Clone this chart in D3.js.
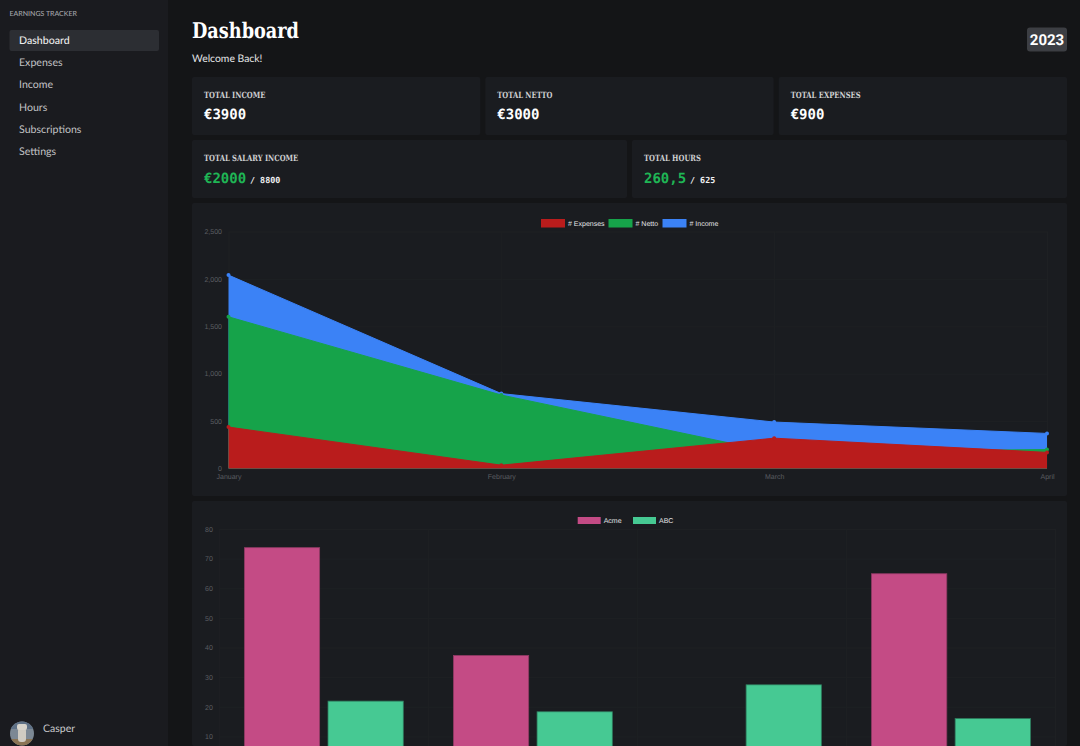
<!DOCTYPE html>
<html><head><meta charset="utf-8">
<script src="https://cdn.jsdelivr.net/npm/d3@7/dist/d3.min.js"></script>
<style>
html,body{margin:0;padding:0;width:1080px;height:746px;overflow:hidden;background:#141517}
svg{display:block}
text{text-rendering:geometricPrecision}
</style></head><body>
<svg id="c" width="1080" height="746" viewBox="0 0 1080 746"></svg>
<script>
// ---- data ----
const navItems = ["Dashboard","Expenses","Income","Hours","Subscriptions","Settings"];
const months = ["January","February","March","April"];
const expenses = [437, 35, 320, 170];
const netto = [1600, 775, 170, 200];
const income = [2040, 790, 490, 370];
const areaSeries = ["# Expenses","# Netto","# Income"];
const areaTicks = [0,500,1000,1500,2000,2500];
const barCategories = ["January","February","March","April"];
const acme = [73.7, 37.3, 0, 64.9];
const abc = [21.9, 18.3, 27.4, 16];
const barSeries = ["Acme","ABC"];
const barTicks = [10,20,30,40,50,60,70,80];
const topLabels = ["TOTAL INCOME","TOTAL NETTO","TOTAL EXPENSES"];
const topValues = ["€3900","€3000","€900"];
const midLabels = ["TOTAL SALARY INCOME","TOTAL HOURS"];
const midValues = ["€2000","260,5"];
const midTargets = ["/ 8800","/ 625"];

// ---- style ----
const C = {page:"#141517",panel:"#1a1b1f",card:"#1a1c20",active:"#2c2e33",grid:"#1e2023",tick:"#5a5c61",
  red:"#b91c1c",green:"#16a34a",blue:"#3b82f6",pink:"#c44b85",teal:"#46c993",ok:"#1fb655"};
const SLAB="'DejaVu Serif',serif", BODY="Lato,sans-serif", MONO="'DejaVu Sans Mono',monospace", CH="'Liberation Sans',Arial,sans-serif";
const svg = d3.select("#c");
svg.append("rect").attr("width",1080).attr("height",746).attr("fill",C.page);

// sidebar
svg.append("rect").attr("width",168).attr("height",746).attr("fill",C.panel);
svg.append("text").attr("x",9.5).attr("y",16).attr("font-family",BODY).attr("font-size",7).attr("font-weight",500)
  .attr("fill","#a3a5a9").text("EARNINGS TRACKER");
svg.append("rect").attr("x",9.5).attr("y",30).attr("width",149.5).attr("height",21).attr("rx",2).attr("fill",C.active);
svg.append("g").selectAll("text").data(navItems).join("text")
  .attr("x",19).attr("y",(d,i)=>44+i*22.2)
  .attr("font-family",BODY).attr("font-size",10.6).attr("font-weight",(d,i)=>i?400:500)
  .attr("fill",(d,i)=>i?"#c1c2c5":"#eceded").text(d=>d);

// avatar
const defs = svg.append("defs");
defs.append("clipPath").attr("id","av").append("circle").attr("cx",22).attr("cy",733.5).attr("r",12);
const av = svg.append("g").attr("clip-path","url(#av)");
av.append("rect").attr("x",10).attr("y",721).attr("width",24).attr("height",25).attr("fill","#7c8894");
av.append("rect").attr("x",10).attr("y",721).attr("width",24).attr("height",8).attr("fill","#5f7186");
av.append("rect").attr("x",10).attr("y",739).attr("width",24).attr("height",7).attr("fill","#8a7454");
av.append("rect").attr("x",18).attr("y",728).attr("width",8).attr("height",14).attr("rx",3).attr("fill","#cfcbc2");
av.append("rect").attr("x",17).attr("y",724).attr("width",10).attr("height",6).attr("rx",2).attr("fill","#d8d4cb");

svg.append("text").attr("x",43).attr("y",732).attr("font-family",BODY).attr("font-size",10.5).attr("fill","#c9cacc").text("Casper");

// header
svg.append("text").attr("x",192).attr("y",38).attr("font-family",SLAB).attr("font-weight",700).attr("font-size",21.5)
  .attr("textLength",107).attr("lengthAdjust","spacingAndGlyphs").attr("fill","#fff").text("Dashboard");
svg.append("text").attr("x",192).attr("y",61.5).attr("font-family",BODY).attr("font-size",10.4).attr("fill","#e2e3e4").text("Welcome Back!");
svg.append("rect").attr("x",1027).attr("y",27.5).attr("width",40).attr("height",24).attr("rx",3).attr("fill","#3c3e43");
svg.append("text").attr("x",1047).attr("y",45).attr("text-anchor","middle").attr("font-family","Roboto,sans-serif").attr("font-weight",700)
  .attr("font-size",15).attr("fill","#fff").text("2023");

// stat cards
function card(x,y,w,h){ svg.append("rect").attr("x",x).attr("y",y).attr("width",w).attr("height",h).attr("rx",2).attr("fill",C.card); }
const titleSqueeze = 0.79;
function title(x,y,t){
  const n = svg.append("text").attr("x",x).attr("y",y).attr("font-family",SLAB).attr("font-size",8.6).attr("font-weight",700).attr("fill","#cfd0d2").text(t);
  n.attr("textLength",n.node().getComputedTextLength()*titleSqueeze).attr("lengthAdjust","spacingAndGlyphs");
}
const topX = [192,485.3,778.7];
topLabels.forEach((t,i)=>{
  card(topX[i],77,288.3,58);
  title(topX[i]+12,97.5,t);
  svg.append("text").attr("x",topX[i]+12).attr("y",119).attr("font-family",MONO).attr("font-weight",700).attr("font-size",14).attr("fill","#fff").text(topValues[i]);
});
const midX = [192,632];
midLabels.forEach((t,i)=>{
  card(midX[i],140,435,58);
  title(midX[i]+12,160.5,t);
  svg.append("text").attr("x",midX[i]+12).attr("y",182.5).attr("font-family",MONO).attr("font-weight",700).attr("font-size",14).attr("fill",C.ok).text(midValues[i]);
  svg.append("text").attr("x",midX[i]+58).attr("y",182.5).attr("font-family",MONO).attr("font-weight",700).attr("font-size",8.4).attr("fill","#f1f1f2").text(midTargets[i]);
});

function styleAxis(g){
  g.select(".domain").remove();
  g.selectAll("line").attr("stroke",C.grid).attr("stroke-width",1);
  g.selectAll("text").attr("fill",C.tick).attr("font-family",CH).attr("font-size",7);
}
function legend(names,colors,xs,y,h,sw){
  const g = svg.append("g");
  names.forEach((n,i)=>{
    g.append("rect").attr("x",xs[i]).attr("y",y).attr("width",sw).attr("height",h).attr("fill",colors[i]);
    g.append("text").attr("x",xs[i]+sw+3).attr("y",y+h/2+2.5).attr("font-family",CH).attr("font-size",7).attr("fill","#e4e4e6").text(n);
  });
}

// ---- area chart ----
card(192,203,875,293);
const x1 = d3.scalePoint().domain(months).range([228.5,1047]);
const y1 = d3.scaleLinear().domain([0,2500]).range([468.5,231.5]);
svg.append("g").attr("transform","translate(228.5,0)")
  .call(d3.axisLeft(y1).tickValues(areaTicks).tickFormat(d3.format(",")).tickSize(-818.5).tickPadding(6.5)).call(styleAxis);
svg.append("g").attr("transform","translate(0,468.5)")
  .call(d3.axisBottom(x1).tickSize(-237).tickPadding(6)).call(styleAxis);
const seriesData = [[income,C.blue],[netto,C.green],[expenses,C.red]];
const area = d3.area().x((d,i)=>x1(months[i])).y0(y1(0)).y1(d=>y1(d));
const line = d3.line().x((d,i)=>x1(months[i])).y(d=>y1(d));
seriesData.forEach(([vals,col])=>{
  const g = svg.append("g");
  g.append("path").datum(vals).attr("d",area).attr("fill",col);
  g.append("path").datum(vals).attr("d",line).attr("fill","none").attr("stroke",col).attr("stroke-width",1);
  g.selectAll("circle").data(vals).join("circle").attr("cx",(d,i)=>x1(months[i])).attr("cy",d=>y1(d)).attr("r",2).attr("fill",col);
});
legend(areaSeries,[C.red,C.green,C.blue],[541,608.5,662.5],219,8.5,24);

// ---- bar chart ----
card(192,501,875,245);
const x2 = d3.scaleBand().domain(barCategories).range([219.3,1055.5]);
const inner = d3.scaleBand().domain(barSeries).range([x2.bandwidth()*0.1,x2.bandwidth()*0.9]).paddingInner(0.1).paddingOuter(0.05);
const y2 = d3.scaleLinear().domain([0,80]).range([766,529]);
svg.append("g").attr("transform","translate(219.3,0)")
  .call(d3.axisLeft(y2).tickValues(barTicks).tickSize(-836.2).tickPadding(6.5)).call(styleAxis);
const vLines = x2.domain().map(d=>x2(d)).concat([1055.5]);
svg.append("g").selectAll("line").data(vLines).join("line")
  .attr("x1",d=>d).attr("x2",d=>d).attr("y1",529).attr("y2",766).attr("stroke",C.grid);
[[acme,C.pink,"#8f3a64"],[abc,C.teal,"#2f7f60"]].forEach(([vals,col,edge],s)=>{
  svg.append("g").selectAll("rect").data(vals.map((v,i)=>({v,c:barCategories[i]})).filter(d=>d.v>0)).join("rect")
    .attr("x",d=>x2(d.c)+inner(barSeries[s])).attr("width",inner.bandwidth())
    .attr("y",d=>y2(d.v)).attr("height",d=>y2(0)-y2(d.v))
    .attr("fill",col).attr("stroke",edge).attr("stroke-width",0.8);
});
legend(barSeries,[C.pink,C.teal],[577.7,633],517,7,23);
</script>
</body></html>
